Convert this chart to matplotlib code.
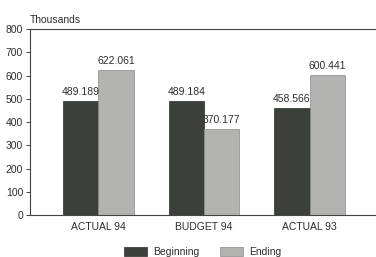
import matplotlib
matplotlib.use("Agg")
import matplotlib.pyplot as plt
import numpy as np

categories = ["ACTUAL 94", "BUDGET 94", "ACTUAL 93"]
beginning = [489.189, 489.184, 458.566]
ending = [622.061, 370.177, 600.441]
yticks = [0, 100, 200, 300, 400, 500, 600, 700, 800]

plt.rcParams['font.family'] = ['Liberation Sans', 'DejaVu Sans']
txt = '#2e2e2e'
dark = '#3b403b'
light = '#b3b3b1'
fs = 7.5

fig = plt.figure(figsize=(3.76, 2.57), dpi=100)
ax = fig.add_axes([0.08, 0.163, 0.925, 0.724])

x = np.arange(len(categories))
w = 0.333
b1 = ax.bar(x - w/2, beginning, w, color=dark, edgecolor='#2a2e2a', linewidth=0.5, label='Beginning')
b2 = ax.bar(x + w/2, ending, w, color=light, edgecolor='#8a8a8a', linewidth=0.5, label='Ending')

for rect, v in zip(b1, beginning):
    ax.text(rect.get_x() + rect.get_width()/2, v + 18, f"{v:.3f}", ha='center', va='bottom', fontsize=fs, color=txt)
for rect, v in zip(b2, ending):
    ax.text(rect.get_x() + rect.get_width()/2, v + 18, f"{v:.3f}", ha='center', va='bottom', fontsize=fs, color=txt)

ax.set_xlim(-0.648, 2.648)
ax.set_ylim(0, 800)
ax.set_yticks(yticks)
ax.set_yticklabels([str(t) for t in yticks], fontsize=fs, color=txt)
ax.set_xticks(x)
ax.set_xticklabels(categories, fontsize=fs, color=txt)
ax.tick_params(axis='x', length=0, pad=5)
ax.tick_params(axis='y', length=3, width=0.7, pad=2, colors='#444444', labelcolor=txt)
for s in ['left', 'bottom', 'top']:
    ax.spines[s].set_color('#444444')
    ax.spines[s].set_linewidth(0.8)
ax.spines['right'].set_visible(False)

ax.text(0.0, 1.02, "Thousands", transform=ax.transAxes, fontsize=fs, color=txt, ha='left', va='bottom')

fig.legend(handles=[b1, b2], labels=['Beginning', 'Ending'], loc='center', bbox_to_anchor=(0.54, 0.02),
           ncol=2, frameon=False, fontsize=fs, handlelength=2.2, handleheight=0.9, columnspacing=2.0,
           handletextpad=0.6, labelcolor=txt)

fig.savefig("out.png", dpi=100)
